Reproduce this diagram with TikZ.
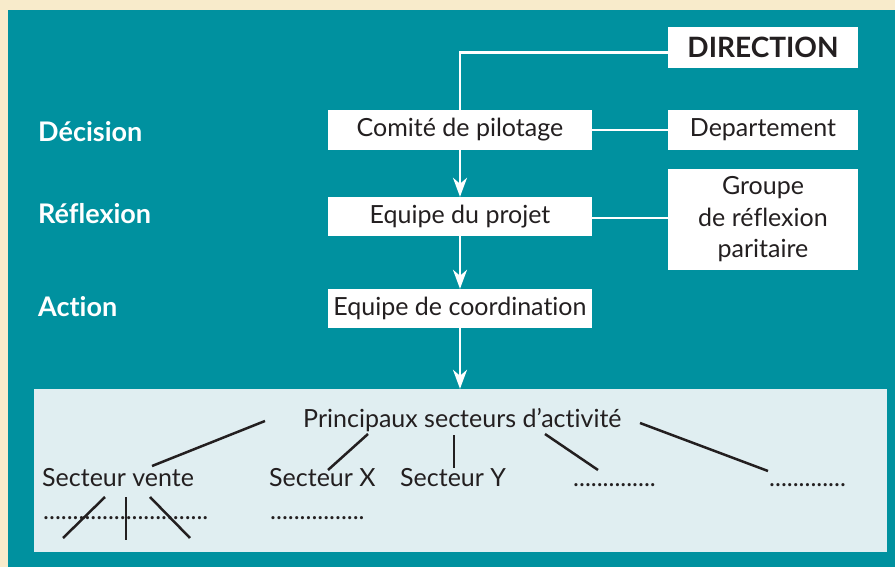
\documentclass[tikz,border=0pt]{standalone}
\usepackage{fontspec}
\setmainfont[Ligatures={NoCommon}]{Lato}
\usetikzlibrary{arrows.meta}
\definecolor{beige}{HTML}{F8EBCB}
\definecolor{teal1}{HTML}{00919F}
\definecolor{lightb}{HTML}{E0EEF1}
\definecolor{ink}{HTML}{231F20}
\begin{document}
\begin{tikzpicture}[x=1pt,y=-1pt,
  box/.style={fill=white,draw=none,text=ink,inner sep=0pt,font=\fontsize{25}{31.5}\selectfont},
  wline/.style={draw=white,line width=2.5pt},
  warrow/.style={wline,-{Stealth[length=19pt,width=14pt,inset=6pt]}},
  bline/.style={draw=ink,line width=2.5pt},
  lvl/.style={text=white,font=\bfseries\fontsize{27}{30}\selectfont,anchor=base west,inner sep=0pt},
  sect/.style={text=ink,font=\fontsize{25}{30}\selectfont,inner sep=0pt,anchor=base west}]
\fill[beige] (0,0) rectangle (895,567);
\fill[teal1] (8,10) rectangle (895,567);
\useasboundingbox (0,0) rectangle (895,567);
% level labels
\node[lvl] (ldec) at (38,142) {Décision};
\node[lvl] (lref) at (38,223) {Réflexion};
\node[lvl] (lact) at (38,316) {Action};
% boxes
\node[box,minimum width=190pt,minimum height=41pt,font=\bfseries\fontsize{28}{30}\selectfont] (dir) at (763,47.5) {DIRECTION};
\node[box,minimum width=264pt,minimum height=40pt] (cp) at (460,130) {Comité de pilotage};
\node[box,minimum width=190pt,minimum height=40pt] (dep) at (763,130) {Departement};
\node[box,minimum width=264pt,minimum height=39pt] (ep) at (460,216.5) {Equipe du projet};
\node[box,minimum width=190pt,minimum height=101pt,align=center] (grp) at (763,219.5) {Groupe\\de réflexion\\paritaire};
\node[box,minimum width=264pt,minimum height=39pt] (ec) at (460,308.5) {Equipe de coordination};
\node[fill=lightb,minimum width=853pt,minimum height=163pt,inner sep=0pt] (sbox) at (460.5,470.5) {};
% white connectors
\draw[wline] ([yshift=-5pt]dir.west) -| (cp.north);
\draw[warrow] (cp.south) -- (ep.north);
\draw[warrow] (ep.south) -- (ec.north);
\draw[warrow] (ec.south) -- (ec.south |- sbox.north);
\draw[wline] (cp.east) -- (dep.west);
\draw[wline] ([yshift=-1.5pt]ep.east) -- ([yshift=-1.5pt]ep.east -| grp.west);
% sectors
\node[sect] (ps) at (303,427) {Principaux secteurs d’activité};
\node[sect] (sv) at (42,486) {Secteur vente};
\node[sect] (sx) at (269,486) {Secteur X};
\node[sect] (sy) at (400,486) {Secteur Y};
\node[sect] (d1) at (573,486) {..............};
\node[sect] (d2) at (769,486) {.............};
\node[sect] (d3) at (43,519) {............................};
\node[sect] (d4) at (270,519) {................};
% black connector end points
\coordinate (a1) at (265,421); \coordinate (b1) at (152,466);
\coordinate (a2) at (368,434); \coordinate (b2) at (328,470);
\coordinate (a3) at (454,435); \coordinate (b3) at (454,468);
\coordinate (a4) at (545,434); \coordinate (b4) at (598,470);
\coordinate (a5) at (640,423); \coordinate (b5) at (768,471);
\coordinate (c1) at (105,497); \coordinate (e1) at (63,538);
\coordinate (c2) at (126,497); \coordinate (e2) at (126,540);
\coordinate (c3) at (150,497); \coordinate (e3) at (190,538);
\draw[bline] (a1) -- (b1);
\draw[bline] (a2) -- (b2);
\draw[bline] (a3) -- (b3);
\draw[bline] (a4) -- (b4);
\draw[bline] (a5) -- (b5);
\draw[bline] (c1) -- (e1);
\draw[bline] (c2) -- (e2);
\draw[bline] (c3) -- (e3);
\end{tikzpicture}
\end{document}
